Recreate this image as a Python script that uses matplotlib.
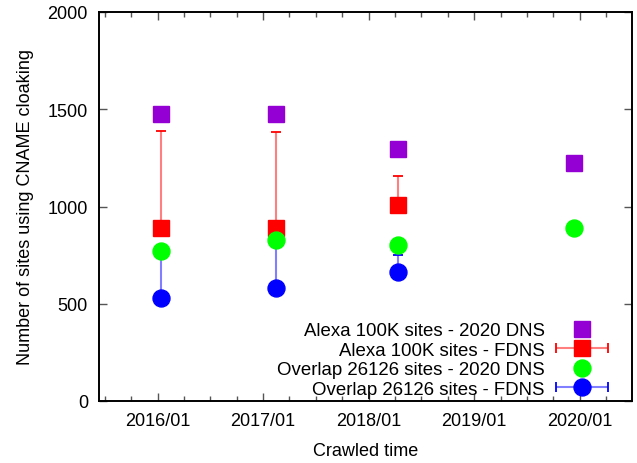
import matplotlib
matplotlib.use('Agg')
import matplotlib.pyplot as plt
import numpy as np
from matplotlib.collections import LineCollection
from matplotlib.container import ErrorbarContainer
from matplotlib.legend_handler import HandlerErrorbar
from matplotlib.ticker import MultipleLocator

plt.rcParams['font.family'] = ['Liberation Sans', 'DejaVu Sans']
plt.rcParams['font.size'] = 13

# crawl dates as decimal years
alexa_dns_x = [2016.03, 2017.12, 2018.28, 2019.95]
alexa_dns_y = [1478, 1478, 1298, 1226]

alexa_fdns_x = [2016.03, 2017.12, 2018.28]
alexa_fdns_y = [892, 887, 1010]
alexa_fdns_hi = [1387, 1385, 1156]

overlap_dns_x = [2016.03, 2017.12, 2018.28, 2019.95]
overlap_dns_y = [769, 828, 800, 887]

overlap_fdns_x = [2016.03, 2017.12, 2018.28]
overlap_fdns_y = [527, 579, 661]
overlap_fdns_hi = [740, 806, 750]

year_ticks = [2016, 2017, 2018, 2019, 2020]
year_labels = ['2016/01', '2017/01', '2018/01', '2019/01', '2020/01']

labels = ['Alexa 100K sites - 2020 DNS', 'Alexa 100K sites - FDNS',
          'Overlap 26126 sites - 2020 DNS', 'Overlap 26126 sites - FDNS']

fig = plt.figure(figsize=(6.37, 4.64), dpi=100)
ax = fig.add_axes([99/637, 1-402/464, (632-99)/637, (402-13)/464])

ms = 12.2


def err_plot(x, y, hi, marker, color):
    y = np.array(y)
    yerr = [np.zeros_like(y), np.array(hi) - y]
    c = ax.errorbar(x, y, yerr=yerr, fmt=marker, ms=ms, color=color, ecolor=color,
                    elinewidth=1.5, capsize=3.5, capthick=1.3, zorder=3)
    for lc in c[2]:
        lc.set_alpha(0.5)
    return c


ax.plot(alexa_dns_x, alexa_dns_y, 's', ms=ms, color='#9400d3', zorder=4, lw=0)
err_plot(alexa_fdns_x, alexa_fdns_y, alexa_fdns_hi, 's', 'red')
ax.plot(overlap_dns_x, overlap_dns_y, 'o', ms=ms, color='#00ff00', zorder=4, lw=0)
err_plot(overlap_fdns_x, overlap_fdns_y, overlap_fdns_hi, 'o', 'blue')

ax.set_xlim(2015.445, 2020.496)
ax.set_ylim(0, 2000)
ax.set_xticks(year_ticks)
ax.set_xticklabels(year_labels)
ax.xaxis.set_minor_locator(MultipleLocator(0.25))
ax.yaxis.set_major_locator(MultipleLocator(500))
ax.tick_params(which='both', direction='in', top=True, right=True, color='#555555', width=1)
ax.tick_params(which='major', length=6, pad=8)
ax.tick_params(which='minor', length=3.5)
for s in ax.spines.values():
    s.set_linewidth(1.4)

ax.set_xlabel('Crawled time', labelpad=9.5)
ax.set_ylabel('Number of sites using CNAME cloaking', labelpad=10)


# legend proxies, gnuplot style with horizontal error bars
def proxy(marker, color, bars):
    ln, = ax.plot([], [], marker, ms=ms, color=color, lw=0)
    if not bars:
        return ln
    cap = ax.plot([], [], '|', color=color, ms=7, mew=1.3)[0]
    lc = LineCollection([], colors=color, linewidths=1.5, alpha=0.5)
    return ErrorbarContainer((ln, (cap,), (lc,)), has_xerr=True, has_yerr=False)


handles = [proxy('s', '#9400d3', False), proxy('s', 'red', True),
           proxy('o', '#00ff00', False), proxy('o', 'blue', True)]
leg = ax.legend(handles, labels, loc='lower right', bbox_to_anchor=(0.981, -0.0245),
                frameon=False, markerfirst=False, handlelength=2.9, handletextpad=0.55,
                labelspacing=0.13, borderaxespad=0.3, fontsize=13.4,
                handler_map={ErrorbarContainer: HandlerErrorbar(xerr_size=1.4)})

fig.savefig('out.png', dpi=100)
